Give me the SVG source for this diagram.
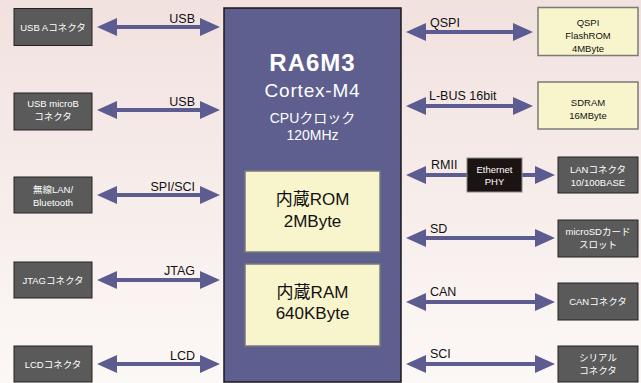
<svg xmlns="http://www.w3.org/2000/svg" width="641" height="383" viewBox="0 0 641 383">
<defs>
<linearGradient id="bg" x1="0" y1="0" x2="0" y2="1">
<stop offset="0" stop-color="#f1e1df"/>
<stop offset="1" stop-color="#fcf8f6"/>
</linearGradient>
<marker id="ah" viewBox="0 0 20 18" markerWidth="20" markerHeight="18" refX="8" refY="9" orient="auto-start-reverse" markerUnits="userSpaceOnUse">
<path d="M0,0 L20,9 L0,18 z" fill="#5c5c90"/>
</marker>
<style>
text{font-family:"Liberation Sans","Noto Sans CJK JP",sans-serif;text-anchor:middle}
.dk{fill:#5a5a5a;stroke:#222;stroke-width:1}
.yl{fill:#f8f5cc;stroke:#7a7a7a;stroke-width:1.5}
.wt{fill:#fff;font-size:9.5px}
.bk{fill:#111;font-size:9.5px}
.lb{fill:#111;font-size:12.5px}
.ll{text-anchor:end}
.rl{text-anchor:start}
.ar{stroke:#5c5c90;stroke-width:4;fill:none}
.in{fill:#111;font-size:17px}
</style>
</defs>
<rect x="0" y="0" width="641" height="383" fill="url(#bg)"/>

<g id="connectors">
<line class="ar" x1="109" y1="27" x2="208" y2="27" marker-start="url(#ah)" marker-end="url(#ah)"/>
<line class="ar" x1="109" y1="110" x2="208" y2="110" marker-start="url(#ah)" marker-end="url(#ah)"/>
<line class="ar" x1="109" y1="195" x2="208" y2="195" marker-start="url(#ah)" marker-end="url(#ah)"/>
<line class="ar" x1="109" y1="280" x2="208" y2="280" marker-start="url(#ah)" marker-end="url(#ah)"/>
<line class="ar" x1="109" y1="364" x2="208" y2="364" marker-start="url(#ah)" marker-end="url(#ah)"/>
<text class="lb ll" x="195" y="23">USB</text>
<text class="lb ll" x="195" y="106">USB</text>
<text class="lb ll" x="195" y="191">SPI/SCI</text>
<text class="lb ll" x="195" y="275">JTAG</text>
<text class="lb ll" x="195" y="360">LCD</text>

<line class="ar" x1="418" y1="32" x2="521" y2="32" marker-start="url(#ah)" marker-end="url(#ah)"/>
<line class="ar" x1="418" y1="106" x2="521" y2="106" marker-start="url(#ah)" marker-end="url(#ah)"/>
<line class="ar" x1="418" y1="175" x2="467" y2="175" marker-start="url(#ah)"/>
<line class="ar" x1="522" y1="175" x2="543" y2="175" marker-end="url(#ah)"/>
<line class="ar" x1="418" y1="238" x2="543" y2="238" marker-start="url(#ah)" marker-end="url(#ah)"/>
<line class="ar" x1="418" y1="302" x2="543" y2="302" marker-start="url(#ah)" marker-end="url(#ah)"/>
<line class="ar" x1="418" y1="364" x2="543" y2="364" marker-start="url(#ah)" marker-end="url(#ah)"/>
<text class="lb rl" x="430" y="27">QSPI</text>
<text class="lb rl" x="429" y="100">L-BUS 16bit</text>
<text class="lb rl" x="431" y="169">RMII</text>
<text class="lb rl" x="430" y="233">SD</text>
<text class="lb rl" x="430" y="296">CAN</text>
<text class="lb rl" x="430" y="358">SCI</text>
</g>

<g id="mcu">
<rect x="224" y="8" width="177" height="374" fill="#5e5f8f" stroke="#1a1a1a" stroke-width="1.5"/>
<text x="312.5" y="71" fill="#fff" font-size="24" font-weight="bold" letter-spacing="1">RA6M3</text>
<text x="312.5" y="97" fill="#fff" font-size="19" letter-spacing="0.8">Cortex-M4</text>
<text x="312.5" y="123" fill="#fff" font-size="14">CPUクロック</text>
<text x="312.5" y="140" fill="#fff" font-size="14">120MHz</text>
</g>
<g id="rom">
<rect class="yl" x="245" y="171" width="135" height="81" stroke-width="2"/>
<text class="in" x="312.5" y="205">内蔵ROM</text>
<text class="in" x="312.5" y="227">2MByte</text>
</g>
<g id="ram">
<rect class="yl" x="245" y="264" width="135" height="82" stroke-width="2"/>
<text class="in" x="312.5" y="298">内蔵RAM</text>
<text class="in" x="312.5" y="319">640KByte</text>
</g>

<g id="usbA"><rect class="dk" x="14" y="8.5" width="78" height="37"/><text class="wt" x="53" y="30.5">USB Aコネクタ</text></g>
<g id="usbMicroB"><rect class="dk" x="14" y="93" width="78" height="37"/><text class="wt" x="53" y="107">USB microB</text><text class="wt" x="53" y="120">コネクタ</text></g>
<g id="wlan"><rect class="dk" x="14" y="177" width="78" height="36"/><text class="wt" x="53" y="193">無線LAN/</text><text class="wt" x="53" y="206">Bluetooth</text></g>
<g id="jtag"><rect class="dk" x="14" y="262" width="78" height="36"/><text class="wt" x="53" y="284">JTAGコネクタ</text></g>
<g id="lcd"><rect class="dk" x="14" y="346" width="78" height="36"/><text class="wt" x="53" y="368">LCDコネクタ</text></g>

<g id="qspi"><rect class="yl" x="538" y="7.5" width="100" height="48"/><text class="bk" x="588" y="26">QSPI</text><text class="bk" x="588" y="39">FlashROM</text><text class="bk" x="588" y="52">4MByte</text></g>
<g id="sdram"><rect class="yl" x="538" y="82" width="100" height="47"/><text class="bk" x="588" y="106">SDRAM</text><text class="bk" x="588" y="119">16MByte</text></g>
<g id="phy"><rect x="467" y="158" width="55" height="34" fill="#1c1412" stroke="#888" stroke-width="1"/><text class="wt" x="494.5" y="173" font-size="9">Ethernet</text><text class="wt" x="494.5" y="185" font-size="9">PHY</text></g>
<g id="lan"><rect class="dk" x="558" y="157" width="80" height="36"/><text class="wt" x="598" y="173">LANコネクタ</text><text class="wt" x="598" y="186">10/100BASE</text></g>
<g id="microsd"><rect class="dk" x="558" y="220" width="80" height="37"/><text class="wt" x="598" y="235">microSDカード</text><text class="wt" x="598" y="248">スロット</text></g>
<g id="can"><rect class="dk" x="558" y="283" width="80" height="37"/><text class="wt" x="598" y="305">CANコネクタ</text></g>
<g id="serial"><rect class="dk" x="558" y="346" width="80" height="36"/><text class="wt" x="598" y="361">シリアル</text><text class="wt" x="598" y="374">コネクタ</text></g>
</svg>
